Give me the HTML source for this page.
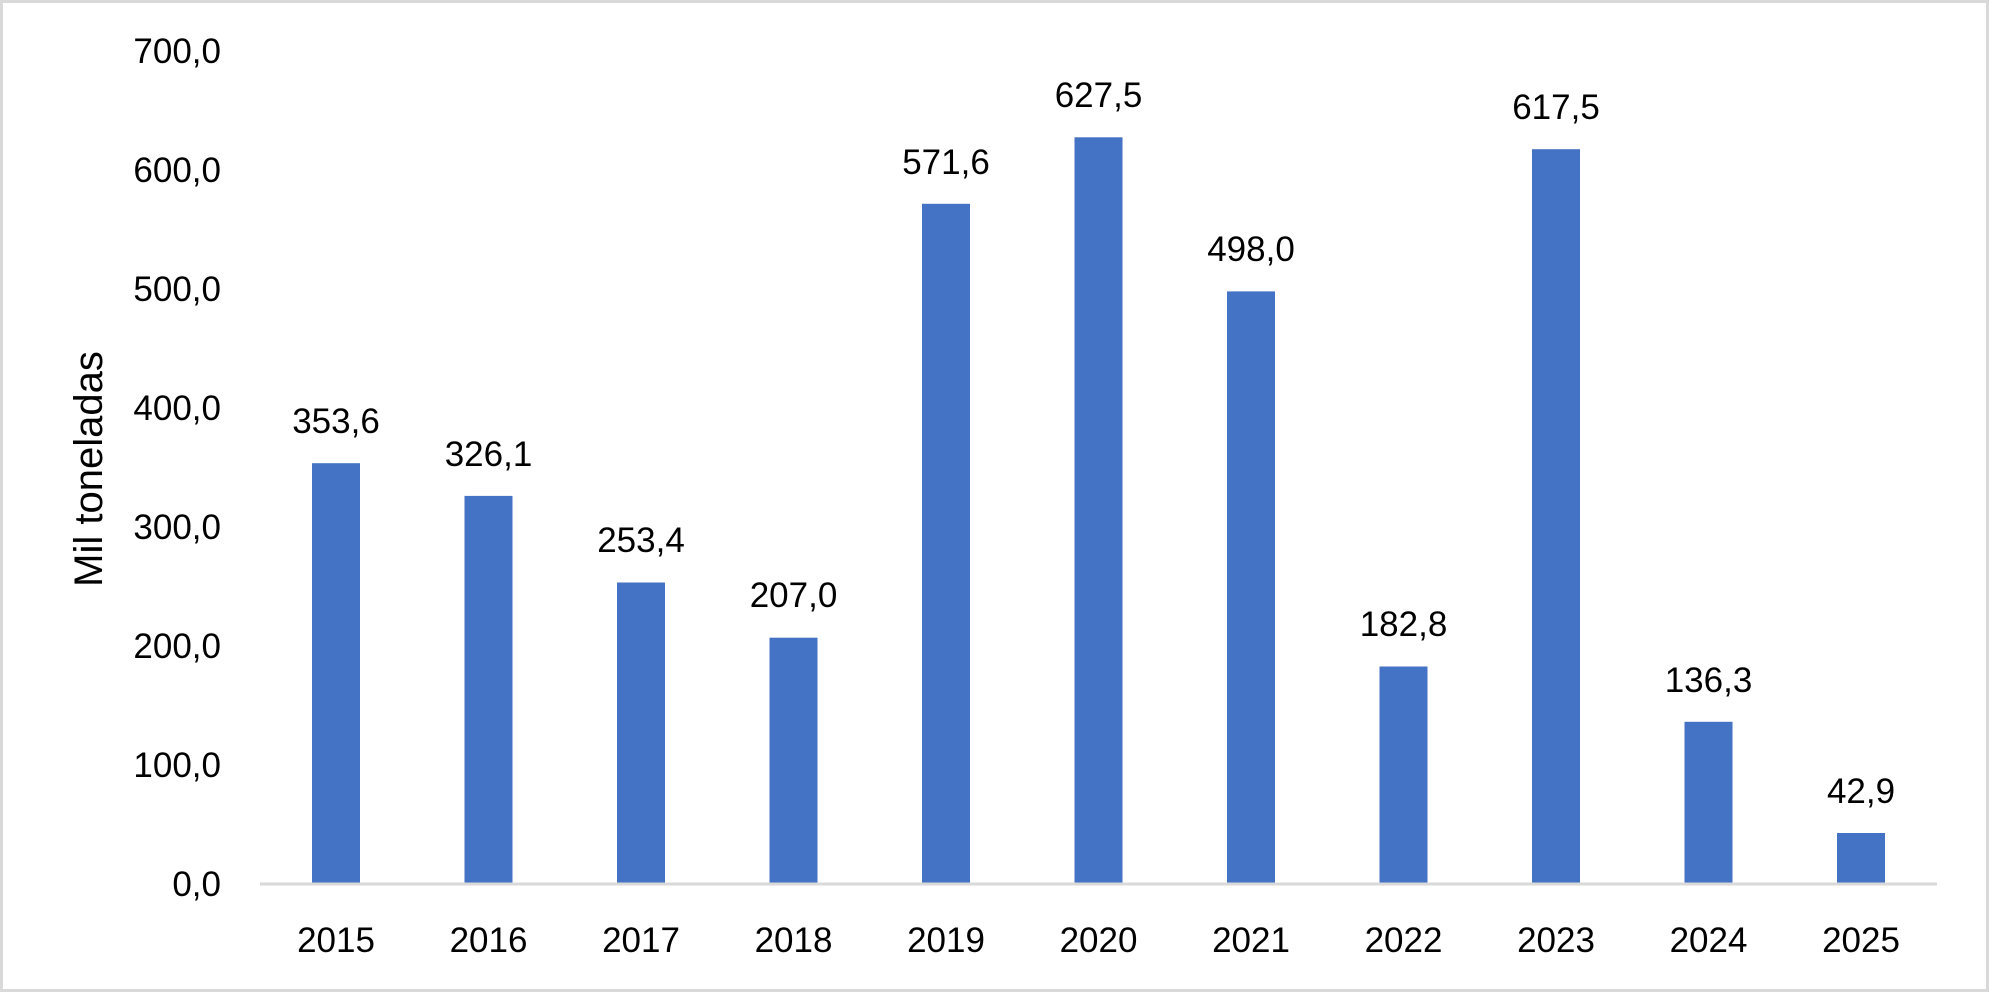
<!DOCTYPE html>
<html><head><meta charset="utf-8"><style>
html,body{margin:0;padding:0;background:#fff;}
svg{display:block;}
text{font-family:"Liberation Sans",sans-serif;fill:#000;}
</style></head><body>
<svg width="1989" height="992" viewBox="0 0 1989 992">
<rect x="1.5" y="1.5" width="1986" height="989" fill="#fff" stroke="#d9d9d9" stroke-width="3"/>
<g font-size="35" text-anchor="end">
<text x="221" y="896">0,0</text>
<text x="221" y="777">100,0</text>
<text x="221" y="658">200,0</text>
<text x="221" y="539">300,0</text>
<text x="221" y="420">400,0</text>
<text x="221" y="301">500,0</text>
<text x="221" y="182">600,0</text>
<text x="221" y="63">700,0</text>
</g>
<text x="0" y="0" font-size="40" text-anchor="middle" transform="translate(102,469) rotate(-90)">Mil toneladas</text>
<g fill="#4472c4">
<rect x="312" y="463.2" width="48" height="420.8"/>
<rect x="464.5" y="495.9" width="48" height="388.1"/>
<rect x="617" y="582.5" width="48" height="301.5"/>
<rect x="769.5" y="637.7" width="48" height="246.3"/>
<rect x="922" y="203.8" width="48" height="680.2"/>
<rect x="1074.5" y="137.3" width="48" height="746.7"/>
<rect x="1227" y="291.4" width="48" height="592.6"/>
<rect x="1379.5" y="666.5" width="48" height="217.5"/>
<rect x="1532" y="149.2" width="48" height="734.8"/>
<rect x="1684.5" y="721.8" width="48" height="162.2"/>
<rect x="1837" y="833" width="48" height="51"/>
</g>
<line x1="260" y1="884" x2="1937" y2="884" stroke="#d9d9d9" stroke-width="3"/>
<g font-size="35" text-anchor="middle">
<text x="336" y="433">353,6</text>
<text x="488.5" y="466">326,1</text>
<text x="641" y="552">253,4</text>
<text x="793.5" y="607">207,0</text>
<text x="946" y="174">571,6</text>
<text x="1098.5" y="107">627,5</text>
<text x="1251" y="261">498,0</text>
<text x="1403.5" y="636">182,8</text>
<text x="1556" y="119">617,5</text>
<text x="1708.5" y="692">136,3</text>
<text x="1861" y="803">42,9</text>
</g>
<g font-size="35" text-anchor="middle">
<text x="336" y="952">2015</text>
<text x="488.5" y="952">2016</text>
<text x="641" y="952">2017</text>
<text x="793.5" y="952">2018</text>
<text x="946" y="952">2019</text>
<text x="1098.5" y="952">2020</text>
<text x="1251" y="952">2021</text>
<text x="1403.5" y="952">2022</text>
<text x="1556" y="952">2023</text>
<text x="1708.5" y="952">2024</text>
<text x="1861" y="952">2025</text>
</g>
</svg>
</body></html>
